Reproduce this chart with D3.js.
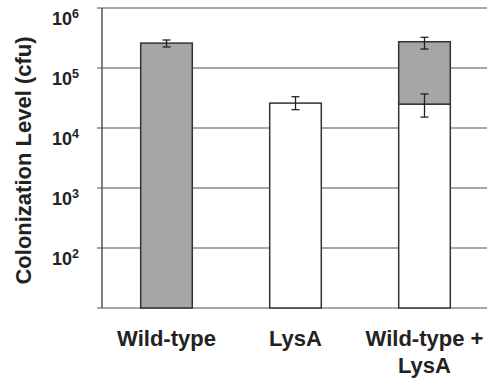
<!DOCTYPE html>
<html><head><meta charset="utf-8">
<script src="https://cdn.jsdelivr.net/npm/d3@7"></script>
<style>body{margin:0;background:#fff}svg{display:block}text{font-family:"Liberation Sans",Arial,sans-serif;font-weight:bold;fill:#222}</style>
</head><body><svg id="c" width="487" height="380"></svg>
<script>
const categories = ["Wild-type", "LysA", "Wild-type + LysA"];
const labelLines = [["Wild-type"], ["LysA"], ["Wild-type +", "LysA"]];
// wild-type (gray) segment top value; null = none
const wildTypeTop = [2.6e5, null, 2.74e5];
const wildTypeErrLow = [2.24e5, null, 2.07e5];
const wildTypeErrHigh = [2.93e5, null, 3.25e5];
// LysA (white) segment top value
const lysATop = [null, 2.6e4, 2.5e4];
const lysAErrLow = [null, 2.02e4, 1.52e4];
const lysAErrHigh = [null, 3.32e4, 3.69e4];
const tickExponents = [2, 3, 4, 5, 6];

(function () {
const svg = d3.select("#c");
const mLeft = 102, mRight = 487, mTop = 8, mBottom = 308;
const y = d3.scaleLog().domain([10, 1e6]).range([mBottom, mTop]);
const x = d3.scaleBand().domain(categories).range([mLeft, 489]).paddingInner(0.6).paddingOuter(0.3);

// gridlines
const grid = [10].concat(tickExponents.map(e => Math.pow(10, e)));
svg.append("g").selectAll("line").data(grid).join("line")
  .attr("x1", 97).attr("x2", mRight).attr("y1", d => y(d)).attr("y2", d => y(d))
  .attr("stroke", "#8a8a8a").attr("stroke-width", 1.5);
// y axis line
svg.append("line").attr("x1", mLeft).attr("x2", mLeft).attr("y1", mTop).attr("y2", mBottom)
  .attr("stroke", "#555").attr("stroke-width", 1.5);

// tick labels
const tl = svg.append("g").selectAll("text").data(tickExponents).join("text")
  .attr("x", 52).attr("y", e => y(Math.pow(10, e)) + 17).style("font-size", "18px");
tl.append("tspan").text("10");
tl.append("tspan").attr("dy", -7.5).style("font-size", "12.5px").text(e => e);

// bars
const g = svg.append("g");
categories.forEach((c, i) => {
  const x0 = x(c), w = x.bandwidth();
  let base = 10;
  if (lysATop[i] != null) {
    g.append("rect").attr("x", x0).attr("width", w)
      .attr("y", y(lysATop[i])).attr("height", y(base) - y(lysATop[i]))
      .attr("fill", "#fff").attr("stroke", "#333").attr("stroke-width", 1.5);
    base = lysATop[i];
  }
  if (wildTypeTop[i] != null) {
    g.append("rect").attr("x", x0).attr("width", w)
      .attr("y", y(wildTypeTop[i])).attr("height", y(base) - y(wildTypeTop[i]))
      .attr("fill", "#a6a6a9").attr("stroke", "#333").attr("stroke-width", 1.5);
  }
});
// error bars
function errBar(cx, lo, hi) {
  const cap = 4;
  g.append("line").attr("x1", cx).attr("x2", cx).attr("y1", y(lo)).attr("y2", y(hi)).attr("stroke", "#222").attr("stroke-width", 1.3);
  [lo, hi].forEach(v => g.append("line").attr("x1", cx - cap).attr("x2", cx + cap).attr("y1", y(v)).attr("y2", y(v)).attr("stroke", "#222").attr("stroke-width", 1.3));
}
categories.forEach((c, i) => {
  const cx = x(c) + x.bandwidth() / 2;
  if (wildTypeTop[i] != null) errBar(cx, wildTypeErrLow[i], wildTypeErrHigh[i]);
  if (lysATop[i] != null) errBar(cx, lysAErrLow[i], lysAErrHigh[i]);
});

// x labels
categories.forEach((c, i) => {
  const t = svg.append("text").attr("text-anchor", "middle").style("font-size", "22px")
    .attr("x", x(c) + x.bandwidth() / 2).attr("y", 346);
  labelLines[i].forEach((l, j) => t.append("tspan").attr("x", x(c) + x.bandwidth() / 2).attr("dy", j ? 27 : 0).text(l));
});

// y title
svg.append("text").attr("transform", "translate(31,160.5) rotate(-90)").attr("text-anchor", "middle")
  .style("font-size", "22px").text("Colonization Level (cfu)");
})();
</script></body></html>
